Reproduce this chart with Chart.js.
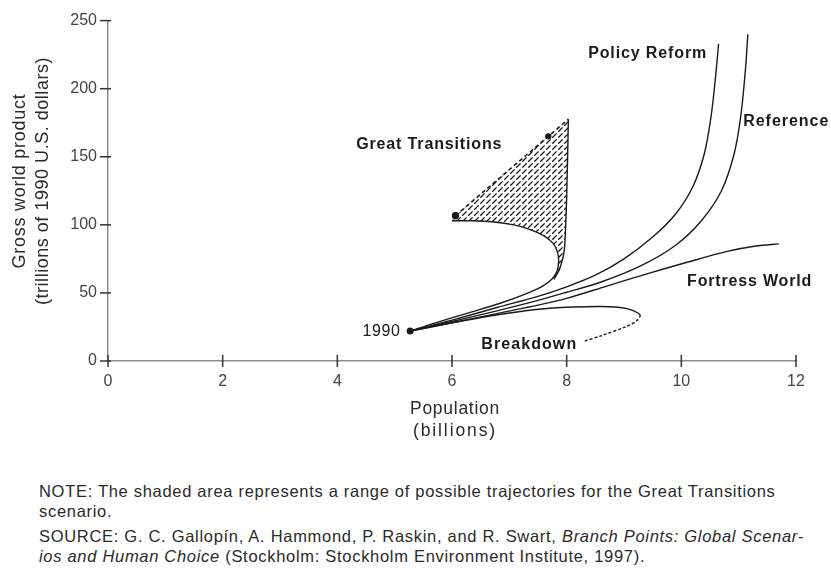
<!DOCTYPE html>
<html>
<head>
<meta charset="utf-8">
<script src="https://cdn.jsdelivr.net/npm/chart.js@4.4.1/dist/chart.umd.min.js"></script>
<style>
  body { margin: 0; background: #fff; width: 831px; height: 568px; overflow: hidden; position: relative; }
  #chart { position: absolute; left: 0; top: 0; }
  .note { position: absolute; left: 39px; top: 481px; font-family: 'Liberation Sans', Arial, sans-serif;
          font-size: 16.5px; letter-spacing: 0.7px; line-height: 20px; color: #2a2a2a; white-space: nowrap; }
  .note .src { margin-top: 5px; }
</style>
</head>
<body>
<canvas id="chart" width="831" height="450"></canvas>
<div class="note">
  NOTE: The shaded area represents a range of possible trajectories for the Great Transitions<br>scenario.
  <div class="src">SOURCE: G. C. Gallopín, A. Hammond, P. Raskin, and R. Swart, <i>Branch Points: Global Scenar-</i><br><i>ios and Human Choice</i> (Stockholm: Stockholm Environment Institute, 1997).</div>
</div>
<script>
// population (billions) / gross world product (trillions of 1990 US$)
const popTicks = [0, 2, 4, 6, 8, 10, 12];
const gwpTicks = [0, 50, 100, 150, 200, 250];

const start1990Pop = [5.27];
const start1990Gwp = [22];

const policyPop = [5.27, 6.0, 6.8, 7.5, 8.0, 8.5, 9.0, 9.5, 9.9, 10.2, 10.4, 10.52, 10.6, 10.65];
const policyGwp = [22, 30, 39.5, 47.5, 54.5, 63, 75, 91, 108, 128, 152, 180, 210, 233];

const referencePop = [5.27, 6.0, 6.8, 7.5, 8.0, 8.6, 9.3, 9.9, 10.35, 10.7, 10.92, 11.04, 11.12, 11.16];
const referenceGwp = [22, 29, 37, 44.5, 50.5, 58, 70, 85, 103, 125, 152, 181, 215, 240];

const fortressPop = [5.27, 6.0, 6.8, 7.5, 8.0, 8.7, 9.4, 10.1, 10.8, 11.3, 11.7];
const fortressGwp = [22, 28, 35, 41, 46, 55, 64, 72.5, 80.5, 84.5, 86];

const breakdownPop = [5.27, 6.0, 6.8, 7.7, 8.6, 9.05, 9.28, 9.22, 9.05, 8.6, 8.3];
const breakdownGwp = [22, 28, 34, 38.7, 40, 38.5, 34, 29.5, 25.5, 18.5, 14.5];

// Great Transitions: lower trajectory, right edge, dashed upper edge, shaded range
const gtLowPop = [5.27, 5.67, 6.26, 6.84, 7.31, 7.58, 7.74, 7.83, 7.86, 7.84, 7.77, 7.62, 7.4, 7.1, 6.7, 6.3, 6.0];
const gtLowGwp = [22, 27.5, 35, 42.4, 49.7, 55, 60, 66, 73, 80, 86, 91.5, 96, 99.8, 102.3, 103, 103];
const gtEdgePop = [7.78, 7.88, 7.96, 8.0, 8.03];
const gtEdgeGwp = [60, 68, 82, 120, 177.6];
const gtTopPop = [6.06, 7.68, 8.03];
const gtTopGwp = [106.7, 165, 177.6];
const gtShadePop = [6.0, 6.06, 8.03, 8.0, 7.96, 7.88, 7.78, 7.83, 7.86, 7.84, 7.77, 7.62, 7.4, 7.1, 6.7, 6.3, 6.0];
const gtShadeGwp = [103, 106.7, 177.6, 120, 82, 68, 60, 66, 73, 80, 86, 91.5, 96, 99.8, 102.3, 103, 103];

const FONT = "'Liberation Sans', Arial, Helvetica, sans-serif";
const INK = '#1a1a1a';

const pts = (xs, ys) => xs.map((x, i) => ({ x, y: ys[i] }));

function hatchPattern() {
    const c = document.createElement('canvas');
    c.width = 6; c.height = 6;
    const g = c.getContext('2d');
    g.strokeStyle = '#111';
    g.lineWidth = 1.3;
    g.beginPath();
    g.moveTo(0.3, 5.7);
    g.lineTo(4.6, 1.4);
    g.stroke();
    return g.createPattern(c, 'repeat');
}

function curve(xs, ys, extra) {
    return Object.assign({
        data: pts(xs, ys),
        showLine: true,
        borderColor: INK,
        borderWidth: 1.4,
        pointRadius: 0,
        tension: 0.3,
        fill: false
    }, extra || {});
}

// text drawn with letter spacing so it spans a given width
function drawFitted(ctx, text, x, y, width, align) {
    ctx.letterSpacing = '0px';
    const w = ctx.measureText(text).width;
    const sp = Math.max(-1, Math.min(3, (width - w) / text.length));
    ctx.letterSpacing = sp + 'px';
    ctx.textAlign = align;
    ctx.fillText(text, x, y);
}

// curve labels: text, population, gwp, align, width in px
const curveLabels = [
    ['Policy Reform', 10.45, 226, 'right', 119],
    ['Reference', 11.08, 176, 'left', 86],
    ['Great Transitions', 4.33, 158.6, 'left', 146],
    ['Fortress World', 10.1, 58.5, 'left', 125],
    ['Breakdown', 6.51, 12.2, 'left', 96],
    ['1990', 5.1, 21.5, 'right', 38]
];

const textPlugin = {
    id: 'texts',
    afterDraw(chart) {
        const { ctx, scales: { x, y } } = chart;
        ctx.save();
        ctx.fillStyle = INK;
        ctx.textBaseline = 'middle';
        for (const [t, px, gy, align, w] of curveLabels) {
            ctx.font = (t === '1990' ? '16px ' : 'bold 16px ') + FONT;
            drawFitted(ctx, t, x.getPixelForValue(px), y.getPixelForValue(gy), w, align);
        }

        // tick marks crossing the axes
        ctx.strokeStyle = '#333';
        ctx.lineWidth = 1.5;
        for (const v of gwpTicks) {
            const py = y.getPixelForValue(v);
            ctx.beginPath(); ctx.moveTo(x.left - 8, py); ctx.lineTo(x.left + 3, py); ctx.stroke();
        }
        for (const v of popTicks) {
            const px = x.getPixelForValue(v);
            ctx.beginPath(); ctx.moveTo(px, y.bottom - 6); ctx.lineTo(px, y.bottom + 6); ctx.stroke();
        }

        // axis titles
        ctx.fillStyle = '#2a2a2a';
        ctx.font = '17.5px ' + FONT;
        const cx = (x.left + x.right) / 2;
        drawFitted(ctx, 'Population', cx + 3, 409, 90, 'center');
        drawFitted(ctx, '(billions)', cx + 3, 431, 84, 'center');
        ctx.font = '18px ' + FONT;
        ctx.translate(0, 181);
        ctx.rotate(-Math.PI / 2);
        drawFitted(ctx, 'Gross world product', 0, 20, 175, 'center');
        drawFitted(ctx, '(trillions of 1990 U.S. dollars)', 0, 43, 248, 'center');
        ctx.restore();
    }
};

const ctx = document.getElementById('chart').getContext('2d');
new Chart(ctx, {
    type: 'scatter',
    data: {
        datasets: [
            curve(start1990Pop, start1990Gwp, { showLine: false, pointRadius: 3.5, backgroundColor: INK, borderWidth: 0 }),
            curve(gtTopPop, gtTopGwp, { borderDash: [4, 3], borderWidth: 1.6, tension: 0, pointRadius: [2.8, 2.4, 0], backgroundColor: INK }),
            curve(gtEdgePop, gtEdgeGwp, { tension: 0.2 }),
            curve(gtLowPop, gtLowGwp),
            curve(policyPop, policyGwp),
            curve(referencePop, referenceGwp),
            curve(fortressPop, fortressGwp),
            curve(breakdownPop, breakdownGwp, {
                segment: { borderDash: c => c.p0DataIndex >= 6 ? [3, 2] : undefined }
            }),
            curve(gtShadePop, gtShadeGwp, { borderWidth: 0, tension: 0, fill: 'shape', backgroundColor: hatchPattern() })
        ]
    },
    options: {
        responsive: false,
        animation: false,
        layout: { padding: { top: 19, right: 35, left: 0, bottom: 0 } },
        plugins: { legend: { display: false }, tooltip: { enabled: false } },
        scales: {
            x: {
                type: 'linear', min: 0, max: 12,
                afterBuildTicks: s => { s.ticks = popTicks.map(v => ({ value: v })); },
                afterFit: s => { s.height = 89; },
                ticks: { padding: 11, color: '#444', font: { family: FONT, size: 16 }, autoSkip: false, maxRotation: 0 },
                grid: { display: false, drawTicks: false },
                border: { color: '#8c8c8c', width: 1.5 }
            },
            y: {
                type: 'linear', min: 0, max: 250,
                afterBuildTicks: s => { s.ticks = gwpTicks.map(v => ({ value: v })); },
                afterFit: s => { s.width = 108; },
                ticks: { padding: 11, color: '#444', font: { family: FONT, size: 16 } },
                grid: { display: false, drawTicks: false },
                border: { color: '#8c8c8c', width: 1.5 }
            }
        }
    },
    plugins: [textPlugin]
});
</script>
</body>
</html>
